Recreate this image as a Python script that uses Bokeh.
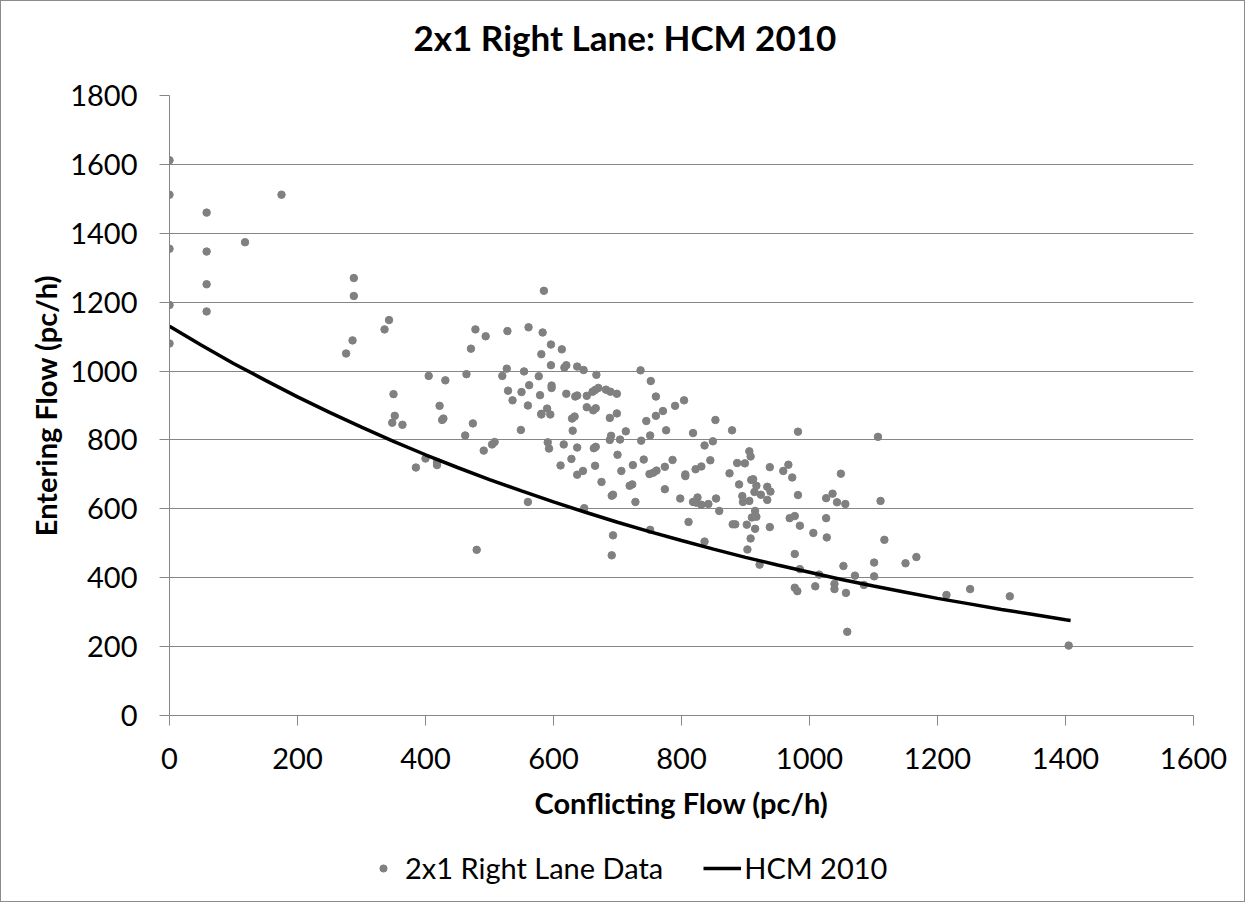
from bokeh.plotting import figure
from bokeh.models import Range1d, FixedTicker, Legend, LegendItem, Title
from bokeh.layouts import column
from bokeh.embed import file_html
from bokeh.resources import INLINE

# ---- data -------------------------------------------------------------
data_x = [0, 0, 0, 0, 0, 58, 58, 58, 58, 175, 118,
          288, 288, 286, 276, 343, 336, 350, 352, 348, 364,
          405, 431, 422, 428, 426, 385, 400, 418, 418,
          464, 478, 494, 471, 474, 462, 491, 504, 508, 480,
          528, 561, 583, 581, 585, 527, 520, 554, 577, 529, 536, 550, 562, 560, 579, 549, 581, 560,
          596, 613, 596, 617, 620, 637, 647, 667, 736, 752, 760, 804, 790, 771, 760, 745, 853, 879,
          818, 849, 836, 776, 751, 737, 713, 699, 688, 690, 688, 704, 700, 706, 724, 741, 786, 774,
          761, 756, 750, 806, 806, 822, 831, 845, 875, 887, 899, 906, 908, 938, 959, 967, 973, 982,
          982, 890, 909, 912, 917, 914, 924, 934, 939, 934, 895, 896, 906, 915, 910, 917, 902, 915,
          938, 908, 903, 922, 880, 884, 859, 854, 842, 831, 823, 825, 818, 811, 836, 798, 774, 728,
          719, 723, 751, 693, 691, 691, 693, 675, 665, 648, 646, 637, 637, 628, 611, 616, 630, 591,
          593, 581, 590, 595, 597, 597, 620, 634, 637, 629, 633, 652, 661, 665, 670, 652, 662, 666,
          682, 689, 699, 666, 663,
          1107, 969, 977, 1026, 1036, 1043, 1056, 1049, 1111, 985, 1006, 1026, 1027, 1117, 977, 985,
          977, 981, 1009, 1015, 1039, 1039, 1057, 1053, 1071, 1085, 1101, 1101, 1059, 1150, 1167,
          1214, 1251, 1313, 1405]
data_y = [1612, 1512, 1355, 1192, 1080, 1460, 1347, 1252, 1173, 1512, 1374,
          1270, 1218, 1089, 1051, 1148, 1121, 933, 870, 850, 844,
          986, 973, 899, 862, 858, 720, 746, 736, 727,
          991, 1121, 1101, 1065, 848, 813, 769, 787, 794, 481,
          1116, 1127, 1112, 1049, 1233, 1007, 986, 999, 985, 943, 915, 939, 959, 900, 930, 829, 876, 620,
          1077, 1063, 1017, 1010, 1017, 1013, 1003, 989, 1002, 971, 926, 915, 899, 884, 870, 855, 858, 828,
          820, 796, 784, 828, 813, 798, 825, 877, 864, 812, 800, 801, 757, 710, 727, 743, 742, 722,
          711, 705, 701, 700, 695, 715, 723, 741, 703, 733, 732, 767, 752, 721, 710, 728, 691, 824,
          640, 671, 684, 686, 667, 649, 641, 664, 650, 626, 637, 620, 623, 594, 575, 577, 554, 542,
          547, 514, 482, 438, 555, 555, 594, 630, 614, 612, 618, 633, 620, 562, 505, 630, 657, 620,
          667, 671, 539, 523, 465, 638, 641, 678, 725, 602, 710, 699, 778, 745, 726, 787, 827, 793,
          775, 874, 891, 874, 958, 951, 934, 926, 929, 862, 868, 928, 940, 945, 951, 895, 886, 892,
          946, 940, 934, 780, 776,
          809, 573, 579, 631, 644, 619, 614, 702, 623, 551, 530, 573, 517, 510, 469, 425,
          371, 361, 375, 409, 382, 367, 356, 434, 406, 379, 444, 404, 243, 442, 460,
          350, 367, 346, 203]

hcm_x = [0, 50, 100, 150, 200, 250, 300, 350, 400, 450, 500, 550, 600, 650, 700,
         750, 800, 850, 900, 950, 1000, 1050, 1100, 1150, 1200, 1250, 1300, 1350, 1400, 1408]
hcm_y = [1130, 1075, 1022, 973, 925, 880, 837, 796, 757, 720, 685, 652, 620, 590, 561,
         534, 508, 483, 459, 437, 416, 395, 376, 358, 340, 324, 308, 293, 278, 276]

x_ticks = [0, 200, 400, 600, 800, 1000, 1200, 1400, 1600]
y_ticks = [0, 200, 400, 600, 800, 1000, 1200, 1400, 1600, 1800]

title_text = "2x1 Right Lane: HCM 2010"
x_label = "Conflicting Flow (pc/h)"
y_label = "Entering Flow (pc/h)"
series_names = ["2x1 Right Lane Data", "HCM 2010"]

# ---- styling ----------------------------------------------------------
FONT = "Lato"
GRAY = "#868686"
DOT = "#808080"
BORDER = "1px solid #8c8c8c"

p = figure(width=1245, height=824, output_backend="svg", toolbar_location=None,
           x_range=Range1d(0, 1600), y_range=Range1d(0, 1800),
           min_border_left=168, min_border_right=53, min_border_top=94,
           min_border_bottom=110)
p.title.text = ""
p.outline_line_color = None
p.background_fill_color = "white"
p.border_fill_color = "white"
p.styles = {"border-left": BORDER, "border-right": BORDER, "border-top": BORDER}

# spacer between frame and title, then the title itself (further out)
p.add_layout(Title(text=" ", text_font_size="1px", standoff=35), "above")
p.add_layout(Title(text=title_text, align="left", offset=244, vertical_align="bottom",
                   standoff=0, text_font=FONT, text_font_size="35px",
                   text_font_style="bold", text_color="black"), "above")

p.xgrid.grid_line_color = None
p.ygrid.grid_line_color = GRAY
p.ygrid.grid_line_width = 1

for ax in (p.xaxis[0], p.yaxis[0]):
    ax.axis_line_color = GRAY
    ax.major_tick_line_color = GRAY
    ax.minor_tick_line_color = None
    ax.major_tick_in = 0
    ax.major_tick_out = 10
    ax.major_label_text_font = FONT
    ax.major_label_text_font_size = "29px"
    ax.major_label_text_color = "black"
    ax.axis_label_text_font = FONT
    ax.axis_label_text_font_size = "29px"
    ax.axis_label_text_font_style = "bold"
    ax.axis_label_text_color = "black"

p.xaxis.ticker = FixedTicker(ticks=x_ticks)
p.yaxis.ticker = FixedTicker(ticks=y_ticks)
p.xaxis.axis_label = x_label
p.yaxis.axis_label = y_label
p.xaxis.major_label_standoff = 22
p.xaxis.axis_label_standoff = 13
p.yaxis.major_label_standoff = 22
p.yaxis.axis_label_standoff = 4

sc = p.scatter(data_x, data_y, size=7.5, color=DOT, line_color=DOT)
ln = p.line(hcm_x, hcm_y, line_color="black", line_width=3.5)

# ---- legend strip below the chart ----------------------------------------
leg = figure(width=1245, height=78, output_backend="svg", toolbar_location=None,
             x_range=Range1d(0, 1), y_range=Range1d(0, 1),
             x_axis_location=None, y_axis_location=None,
             min_border_left=0, min_border_right=0, min_border_top=0, min_border_bottom=0)
leg.title.text = ""
leg.grid.visible = False
leg.outline_line_color = None
leg.background_fill_color = "white"
leg.border_fill_color = "white"
leg.styles = {"border-left": BORDER, "border-right": BORDER, "border-bottom": BORDER}

# key glyphs: same series, but they fall outside this strip's ranges (invisible)
sc_key = leg.scatter(data_x, data_y, size=7.5, color=DOT, line_color=DOT)
ln_key = leg.line(hcm_x, hcm_y, line_color="black", line_width=3.5)

legend = Legend(
    items=[LegendItem(label=series_names[0], renderers=[sc_key]),
           LegendItem(label=series_names[1], renderers=[ln_key])],
    orientation="horizontal", location=(195, 17),
    padding=0, margin=0, spacing=40, glyph_width=38, glyph_height=18,
    label_standoff=3, border_line_color=None, background_fill_alpha=0,
    label_text_font=FONT, label_text_font_size="29px", label_text_color="black")
leg.add_layout(legend, "center")

layout = column(p, leg, spacing=0)
open("out.html", "w").write(file_html(layout, INLINE))
